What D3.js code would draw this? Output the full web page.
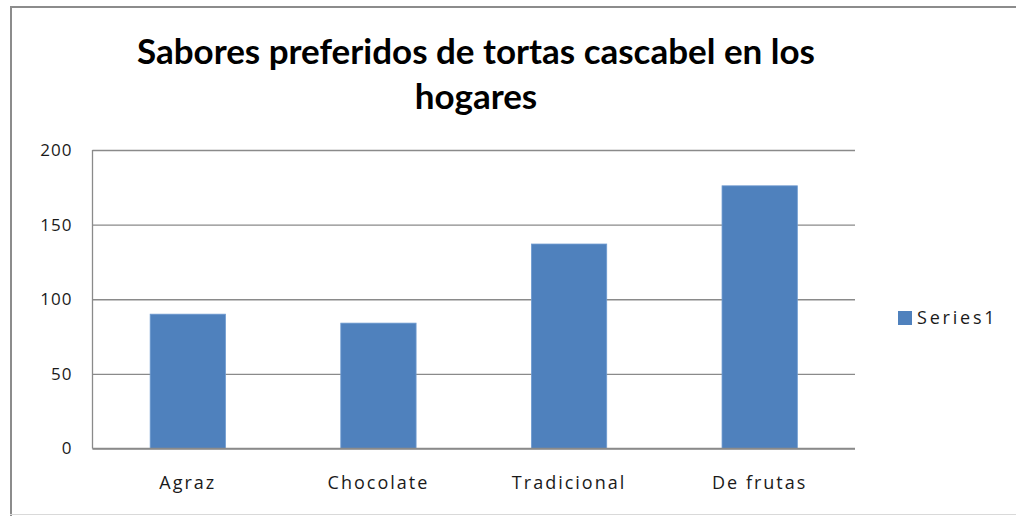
<!DOCTYPE html>
<html>
<head>
<meta charset="utf-8">
<script src="https://cdn.jsdelivr.net/npm/d3@7"></script>
<style>
  html, body { margin: 0; padding: 0; background: #fff; overflow: hidden; }
  svg { display: block; }
</style>
</head>
<body>
<svg id="chart" width="1016" height="516"></svg>
<script>
const categories = ["Agraz", "Chocolate", "Tradicional", "De frutas"];
const values = [90, 84, 137, 176];
const yTicks = [0, 50, 100, 150, 200];
const seriesName = "Series1";
const titleLines = ["Sabores preferidos de tortas cascabel en los", "hogares"];

const svg = d3.select("#chart");
const W = 1016, H = 516;
const plot = { left: 92.5, right: 855, top: 150, bottom: 448.5 };
const labelFont = "'Open Sans', sans-serif";

// chart border
svg.append("line").attr("x1", 11).attr("x2", 11).attr("y1", 6).attr("y2", H)
  .attr("stroke", "#8c8c8c").attr("stroke-width", 2);
svg.append("line").attr("x1", 10).attr("x2", W).attr("y1", 7).attr("y2", 7)
  .attr("stroke", "#8c8c8c").attr("stroke-width", 2);
svg.append("line").attr("x1", 10).attr("x2", W).attr("y1", 514.5).attr("y2", 514.5)
  .attr("stroke", "#d9d9d9").attr("stroke-width", 1);

const x = d3.scaleBand().domain(categories).range([plot.left, plot.right])
  .paddingInner(0.605).paddingOuter(0.3025);
const y = d3.scaleLinear().domain([0, 200]).range([plot.bottom, plot.top]);

// gridlines
const yAxis = d3.axisLeft(y).tickValues(yTicks).tickSize(-(plot.right - plot.left)).tickFormat(d3.format("d")).tickPadding(20);
const gy = svg.append("g").attr("transform", `translate(${plot.left},0)`).call(yAxis);
gy.select(".domain").remove();
gy.selectAll(".tick line").attr("stroke", "#8a8a8a").attr("stroke-width", 1.3);
gy.selectAll(".tick text").attr("fill", "#1a1a1a").style("font-family", labelFont).style("font-size", "17px")
  .style("letter-spacing", "1px");

// left axis line
svg.append("line").attr("x1", plot.left).attr("x2", plot.left).attr("y1", plot.top).attr("y2", plot.bottom)
  .attr("stroke", "#8a8a8a").attr("stroke-width", 1.3);

// bars
svg.append("g").selectAll("rect").data(values).join("rect")
  .attr("x", (d, i) => x(categories[i]))
  .attr("width", x.bandwidth())
  .attr("y", d => y(d))
  .attr("height", d => y(0) - y(d))
  .attr("fill", "#4f81bd")
  .attr("stroke", "#6f9bd0").attr("stroke-width", 0.8);

// x axis
const xAxis = d3.axisBottom(x).tickSize(0).tickPadding(28);
const gx = svg.append("g").attr("transform", `translate(0,${plot.bottom})`).call(xAxis);
gx.select(".domain").attr("stroke", "#8a8a8a").attr("stroke-width", 1.3)
  .attr("d", `M${plot.left},0H${plot.right}`);
gx.selectAll(".tick text").attr("fill", "#1a1a1a").style("font-family", labelFont).style("font-size", "18px")
  .style("letter-spacing", "2px");

// title
titleLines.forEach((t, i) => {
  svg.append("text").attr("class", "title").attr("x", 476).attr("y", i === 0 ? 64 : 109)
    .attr("text-anchor", "middle")
    .style("font-family", "Lato, sans-serif").style("font-weight", "bold")
    .style("font-size", "28px").attr("fill", "#000").text(t);
});
// fit title font size to the first line's width in the reference
const titleTarget = 678;
const w0 = svg.select("text.title").node().getComputedTextLength();
svg.selectAll("text.title").style("font-size", (28 * titleTarget / w0) + "px");

// legend
const lg = svg.append("g");
lg.append("rect").attr("x", 898).attr("y", 311).attr("width", 14).attr("height", 14).attr("fill", "#4f81bd");
lg.append("text").attr("x", 917).attr("y", 324).text(seriesName)
  .style("font-family", labelFont).style("font-size", "18px").style("letter-spacing", "2.8px").attr("fill", "#1a1a1a");
</script>
</body>
</html>
